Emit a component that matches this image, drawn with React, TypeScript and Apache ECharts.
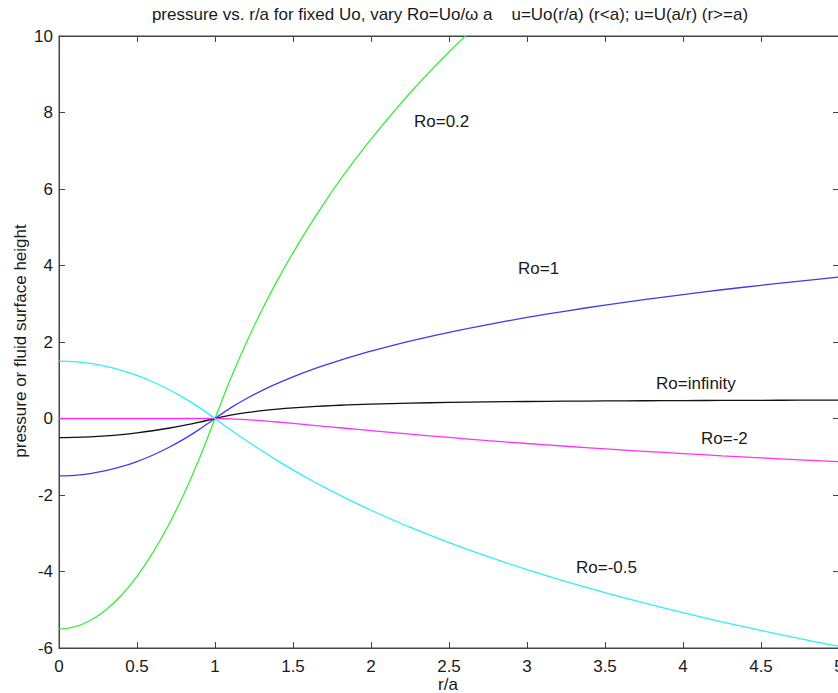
import React, { useEffect, useRef } from "react";
import * as echarts from "echarts";

// r/a sample positions
const rA = [
  0, 0.1, 0.2, 0.3, 0.4, 0.5, 0.6, 0.7, 0.8, 0.9, 1,
  1.1, 1.2, 1.3, 1.4, 1.5, 1.6, 1.7, 1.8, 1.9, 2,
  2.25, 2.5, 2.75, 3, 3.25, 3.5, 3.75, 4, 4.25, 4.5, 4.75, 5,
];

// pressure values
const pRo02 = [
  -5.5, -5.445, -5.28, -5.005, -4.62, -4.125, -3.52, -2.805, -1.98, -1.045, 0,
  1.04, 1.976, 2.828, 3.61, 4.332, 5.005, 5.633, 6.224, 6.78, 7.306,
  8.511, 9.583, 10.55,
];
const pRo1 = [
  -1.5, -1.485, -1.44, -1.365, -1.26, -1.125, -0.96, -0.765, -0.54, -0.285, 0,
  0.277, 0.517, 0.729, 0.918, 1.089, 1.245, 1.388, 1.521, 1.645, 1.761,
  2.023, 2.253, 2.457, 2.642, 2.81, 2.965, 3.108, 3.241, 3.366, 3.483, 3.594, 3.699,
];
const pRoInf = [
  -0.5, -0.495, -0.48, -0.455, -0.42, -0.375, -0.32, -0.255, -0.18, -0.095, 0,
  0.087, 0.153, 0.204, 0.245, 0.278, 0.305, 0.327, 0.346, 0.361, 0.375,
  0.401, 0.42, 0.434, 0.444, 0.453, 0.459, 0.464, 0.469, 0.472, 0.475, 0.478, 0.48,
];
const pRoM2 = [
  0, 0, 0, 0, 0, 0, 0, 0, 0, 0, 0,
  -0.009, -0.03, -0.058, -0.092, -0.128, -0.165, -0.204, -0.242, -0.28, -0.318,
  -0.41, -0.496, -0.578, -0.654, -0.726, -0.794, -0.857, -0.918, -0.975, -1.029, -1.08, -1.129,
];
const pRoM05 = [
  1.5, 1.485, 1.44, 1.365, 1.26, 1.125, 0.96, 0.765, 0.54, 0.285, 0,
  -0.294, -0.577, -0.845, -1.101, -1.344, -1.575, -1.796, -2.005, -2.206, -2.398,
  -2.842, -3.245, -3.613, -3.95, -4.262, -4.552, -4.823, -5.076, -5.315, -5.541, -5.755, -5.958,
];

const seriesNames = ["Ro=0.2", "Ro=1", "Ro=infinity", "Ro=-2", "Ro=-0.5"];
const seriesValues = [pRo02, pRo1, pRoInf, pRoM2, pRoM05];
const seriesColors = ["#3cec3c", "#3c3cee", "#111111", "#ff30ff", "#30eef8"];

const titleText =
  "pressure vs. r/a for fixed Uo, vary Ro=Uo/\u03c9 a\u00a0\u00a0\u00a0\u00a0u=Uo(r/a) (r<a); u=U(a/r) (r>=a)";
const xLabel = "r/a";
const yLabel = "pressure or fluid surface height";
const curveLabels: [string, number, number][] = [
  ["Ro=0.2", 414, 121],
  ["Ro=1", 518, 268],
  ["Ro=infinity", 656, 383],
  ["Ro=-2", 701, 438],
  ["Ro=-0.5", 576, 567],
];

const FONT = "Liberation Sans, Arial, sans-serif";
const AXIS = "#444444";
const TEXT = "#1a1a1a";

export default function App() {
  const ref = useRef<HTMLDivElement>(null);
  useEffect(() => {
    if (!ref.current) return;
    const chart = echarts.init(ref.current, undefined, { renderer: "svg" });
    const axisCommon = {
      type: "value" as const,
      axisLine: { show: true, onZero: false, lineStyle: { color: AXIS, width: 1 } },
      axisTick: { show: true, inside: true, length: 6, lineStyle: { color: AXIS } },
      splitLine: { show: false },
    };
    const labelStyle = { color: TEXT, fontSize: 17, fontFamily: FONT };
    chart.setOption({
      animation: false,
      backgroundColor: "#ffffff",
      grid: {
        left: 59,
        top: 36,
        right: -1,
        bottom: 45,
        containLabel: false,
        outerBoundsMode: "none",
        show: true,
        borderColor: AXIS,
        borderWidth: 1,
        backgroundColor: "transparent",
      },
      xAxis: [
        {
          ...axisCommon,
          position: "bottom",
          min: 0,
          max: 5,
          interval: 0.5,
          axisLabel: { ...labelStyle, margin: 10 },
        },
        {
          ...axisCommon,
          position: "top",
          min: 0,
          max: 5,
          interval: 0.5,
          axisLabel: { show: false },
        },
      ],
      yAxis: [
        {
          ...axisCommon,
          position: "left",
          min: -6,
          max: 10,
          interval: 2,
          axisLabel: { ...labelStyle, margin: 6 },
        },
        {
          ...axisCommon,
          position: "right",
          min: -6,
          max: 10,
          interval: 2,
          axisLabel: { show: false },
        },
      ],
      series: seriesNames.map((name, i) => ({
        name,
        type: "line",
        xAxisIndex: 0,
        yAxisIndex: 0,
        data: seriesValues[i].map((v, j) => [rA[j], v]),
        smooth: 0.3,
        showSymbol: false,
        symbol: "none",
        clip: true,
        lineStyle: { color: seriesColors[i], width: 1.3 },
      })),
      graphic: [
        {
          type: "text",
          x: 450,
          y: 14,
          style: {
            text: titleText,
            fill: TEXT,
            font: `17px ${FONT}`,
            textAlign: "center",
            textVerticalAlign: "middle",
          },
        },
        {
          type: "text",
          x: 448,
          y: 684,
          style: {
            text: xLabel,
            fill: TEXT,
            font: `17px ${FONT}`,
            textAlign: "center",
            textVerticalAlign: "middle",
          },
        },
        {
          type: "text",
          x: 20,
          y: 341,
          rotation: Math.PI / 2,
          style: {
            text: yLabel,
            fill: TEXT,
            font: `17px ${FONT}`,
            textAlign: "center",
            textVerticalAlign: "middle",
          },
        },
        ...curveLabels.map(([t, x, y]) => ({
          type: "text",
          x,
          y,
          style: {
            text: t,
            fill: TEXT,
            font: `17px ${FONT}`,
            textAlign: "left",
            textVerticalAlign: "middle",
          },
        })),
      ],
    });
    return () => chart.dispose();
  }, []);
  return (
    <div
      ref={ref}
      style={{ position: "absolute", left: 0, top: 0, width: 838, height: 693 }}
    />
  );
}
